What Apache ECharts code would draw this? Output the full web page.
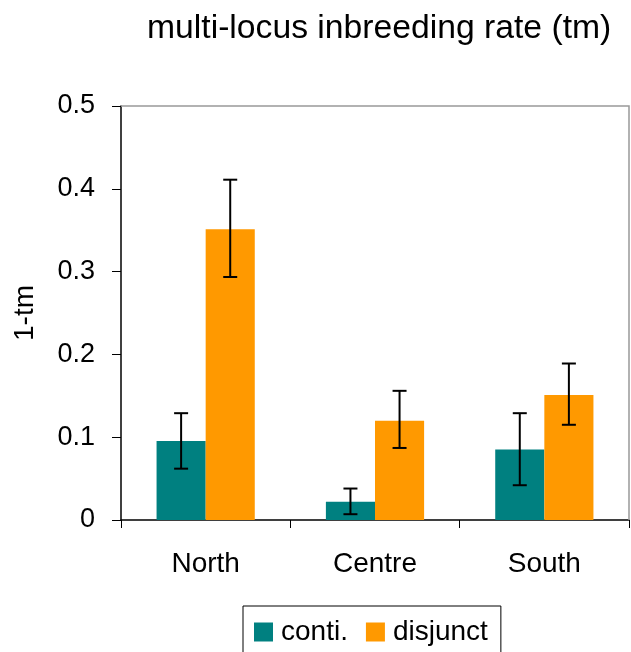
<!DOCTYPE html>
<html>
<head>
<meta charset="utf-8">
<script src="https://cdn.jsdelivr.net/npm/echarts@6/dist/echarts.min.js"></script>
<style>
  html, body { margin: 0; padding: 0; background: #fff; }
  #chart { width: 631px; height: 652px; }
</style>
</head>
<body>
<div id="chart"></div>
<script>
// Regions and multi-locus outcrossing complement (1 - tm) per habitat type
const regions = ['North', 'Centre', 'South'];
const contiValues = [0.0955, 0.022, 0.085];
const contiLow = [0.062, 0.007, 0.042];
const contiHigh = [0.129, 0.038, 0.129];
const disjunctValues = [0.351, 0.120, 0.151];
const disjunctLow = [0.2935, 0.087, 0.115];
const disjunctHigh = [0.411, 0.156, 0.189];
const yTicks = [0, 0.1, 0.2, 0.3, 0.4, 0.5];

const FONT = '"Liberation Sans", Arial, sans-serif';
const CAT_GAP = 0.42;

function errorSeries(name, low, high, side) {
  return {
    type: 'custom',
    name: name + ' error',
    z: 10,
    data: regions.map((r, i) => [i, low[i], high[i]]),
    renderItem: function (params, api) {
      const idx = api.value(0);
      const band = api.size([1, 0])[0];
      const barW = band * (1 - CAT_GAP) / 2;
      const lo = api.coord([idx, api.value(1)]);
      const hi = api.coord([idx, api.value(2)]);
      const x = lo[0] + side * barW / 2;
      const cap = 7;
      const style = { stroke: '#000', lineWidth: 2 };
      return {
        type: 'group',
        children: [
          { type: 'line', shape: { x1: x, y1: lo[1], x2: x, y2: hi[1] }, style: style },
          { type: 'line', shape: { x1: x - cap, y1: lo[1], x2: x + cap, y2: lo[1] }, style: style },
          { type: 'line', shape: { x1: x - cap, y1: hi[1], x2: x + cap, y2: hi[1] }, style: style }
        ]
      };
    }
  };
}

const chart = echarts.init(document.getElementById('chart'), null, { renderer: 'canvas' });
chart.setOption({
  animation: false,
  backgroundColor: '#fff',
  title: {
    text: 'multi-locus inbreeding rate (tm)',
    left: 142,
    top: 7,
    textStyle: { fontFamily: FONT, fontSize: 33.7, fontWeight: 'normal', color: '#000' }
  },
  grid: { left: 121, right: 2, top: 106, bottom: 132, containLabel: false },
  legend: {
    data: ['conti.', 'disjunct'],
    left: 243,
    top: 606,
    orient: 'horizontal',
    icon: 'rect',
    itemWidth: 19,
    itemHeight: 19,
    itemGap: 18,
    padding: [12, 13, 10, 11],
    borderColor: '#000',
    borderWidth: 1,
    textStyle: { fontFamily: FONT, fontSize: 28, color: '#000', padding: [0, 0, 0, 3] }
  },
  xAxis: {
    type: 'category',
    data: regions,
    axisLine: { show: true, lineStyle: { color: '#000', width: 1.5 } },
    axisTick: { show: true, length: 8, lineStyle: { color: '#000' }, alignWithLabel: false },
    axisLabel: { fontFamily: FONT, fontSize: 28, color: '#000', margin: 30 },
    splitLine: { show: false }
  },
  yAxis: {
    type: 'value',
    min: 0,
    max: 0.5,
    interval: 0.1,
    name: '1-tm',
    nameLocation: 'middle',
    nameGap: 82,
    nameRotate: 90,
    nameTextStyle: { fontFamily: FONT, fontSize: 28, color: '#000' },
    axisLine: { show: true, lineStyle: { color: '#000', width: 1.5 } },
    axisTick: { show: true, length: 9, lineStyle: { color: '#000' } },
    axisLabel: {
      fontFamily: FONT, fontSize: 27, color: '#000', margin: 26,
      formatter: function (v) {
        const t = yTicks.find(k => Math.abs(k - v) < 1e-9);
        return t === 0 ? '0' : String(t);
      }
    },
    splitLine: { show: false }
  },
  series: [
    {
      name: 'conti.', type: 'bar', data: contiValues,
      itemStyle: { color: '#008080' }, barGap: '0%', barCategoryGap: (CAT_GAP * 100) + '%'
    },
    {
      name: 'disjunct', type: 'bar', data: disjunctValues,
      itemStyle: { color: '#FF9900' }, barGap: '0%', barCategoryGap: (CAT_GAP * 100) + '%'
    },
    errorSeries('conti.', contiLow, contiHigh, -1),
    errorSeries('disjunct', disjunctLow, disjunctHigh, 1)
  ],
  graphic: [
    // light frame on the top and right edges of the plot area
    { type: 'polyline', z: 5, shape: { points: [[121, 106], [629, 106], [629, 520]] },
      style: { stroke: '#999', lineWidth: 1.5, fill: null } }
  ]
});
</script>
</body>
</html>
